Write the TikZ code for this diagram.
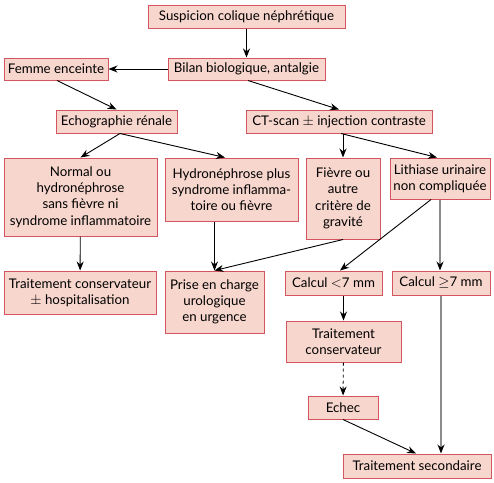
\documentclass[tikz,border=0pt]{standalone}
\usepackage{fontspec}
\setmainfont{Lato}
\usetikzlibrary{arrows.meta}
\definecolor{boxfill}{RGB}{247,214,205}
\definecolor{boxline}{RGB}{210,85,95}
\begin{document}
\begin{tikzpicture}[x=1pt,y=-1pt,
    box/.style={draw=boxline, fill=boxfill, line width=1pt, align=center, inner sep=0pt,
                font=\fontsize{13.3}{16.3}\selectfont},
    arr/.style={-{Stealth[length=9pt,width=7pt]}, line width=0.9pt},
    grayarr/.style={-{Stealth[length=9pt,width=7pt,color=black]}, line width=1.3pt, draw=black!45}]
        \useasboundingbox (0,0) rectangle (494,482);
        % first rows
        \node[box, minimum width=197pt, minimum height=23pt] (suspicion) at (246.5, 16.5) {Suspicion colique néphrétique};
        \node[box, minimum width=157pt, minimum height=22pt] (bilan)     at (246.5, 69)   {Bilan biologique, antalgie};
        \node[box, minimum width=104pt, minimum height=22pt] (femme)     at (56, 69)      {Femme enceinte};
        \node[box, minimum width=121pt, minimum height=23pt] (echo)      at (116.5, 121.5) {Echographie rénale};
        \node[box, minimum width=186pt, minimum height=23pt] (ctscan)    at (339, 121.5)  {CT-scan $\pm$ injection contraste};
        % findings
        \node[box, minimum width=153pt, minimum height=78pt] (normal)    at (80.5, 197)   {Normal ou\\hydronéphrose\\sans fièvre ni\\syndrome inflammatoire};
        \node[box, minimum width=133pt, minimum height=63pt] (hydro)     at (231.5, 189.5) {Hydronéphrose plus\\syndrome inflamma-\\toire ou fièvre};
        \node[box, minimum width=74pt,  minimum height=81pt] (fievre)    at (343, 198.5)  {Fièvre ou\\autre\\critère de\\gravité};
        \node[box, minimum width=100pt, minimum height=41pt] (lithiase)  at (440, 178.5)  {Lithiase urinaire\\non compliquée};
        % treatments
        \node[box, minimum width=152pt, minimum height=43pt] (tcons)     at (80, 292.5)   {Traitement conservateur\\$\pm$ hospitalisation};
        \node[box, minimum width=99pt,  minimum height=62pt] (prise)     at (214.5, 302)  {Prise en charge\\urologique\\en urgence};
        \node[box, minimum width=97pt,  minimum height=24pt] (calcinf)   at (333.5, 283)  {Calcul $<$7 mm};
        \node[box, minimum width=98pt,  minimum height=24pt] (calcsup)   at (441, 283)    {Calcul $\geq$7 mm};
        \node[box, minimum width=115pt, minimum height=41pt] (tconsb)    at (343.5, 341.5) {Traitement\\conservateur};
        \node[box, minimum width=70pt,  minimum height=23pt] (echec)     at (343, 407.5)  {Echec};
        \node[box, minimum width=148pt, minimum height=24pt] (tsec)      at (417, 466)    {Traitement secondaire};
        % arrows
        \draw[arr] (suspicion) -- (bilan);
        \draw[arr] (bilan) -- (femme);
        \draw[arr] ([xshift=1pt]femme.south) -- (echo.north);
        \draw[arr] ([xshift=1.5pt]bilan.south) -- (ctscan.north);
        \draw[arr] ([xshift=3.5pt]echo.south) -- (normal.north);
        \draw[arr] ([xshift=3.5pt]echo.south) -- ([xshift=-6.5pt]hydro.north);
        \draw[arr] ([xshift=4pt]ctscan.south) -- (fievre.north);
        \draw[arr] ([xshift=2pt]ctscan.south) -- ([xshift=-3pt]lithiase.north);
        \draw[arr] (normal) -- (tcons);
        \draw[arr] (hydro.south -| prise.north) -- (prise.north);
        \draw[arr] (fievre.south) -- (prise.north);
        \draw[arr] ([xshift=-9pt]lithiase.south) -- ([xshift=6.5pt]calcinf.north);
        \draw[grayarr] (lithiase.south) -- (lithiase.south |- calcsup.north);
        \draw[grayarr] (calcsup.south) -- (calcsup.south |- tsec.north);
        \draw[arr] (calcinf.south -| tconsb.north) -- (tconsb.north);
        \draw[arr, dashed] (tconsb) -- (echec);
        \draw[arr] (echec.south) -- ([xshift=-1pt]tsec.north);
\end{tikzpicture}
\end{document}
